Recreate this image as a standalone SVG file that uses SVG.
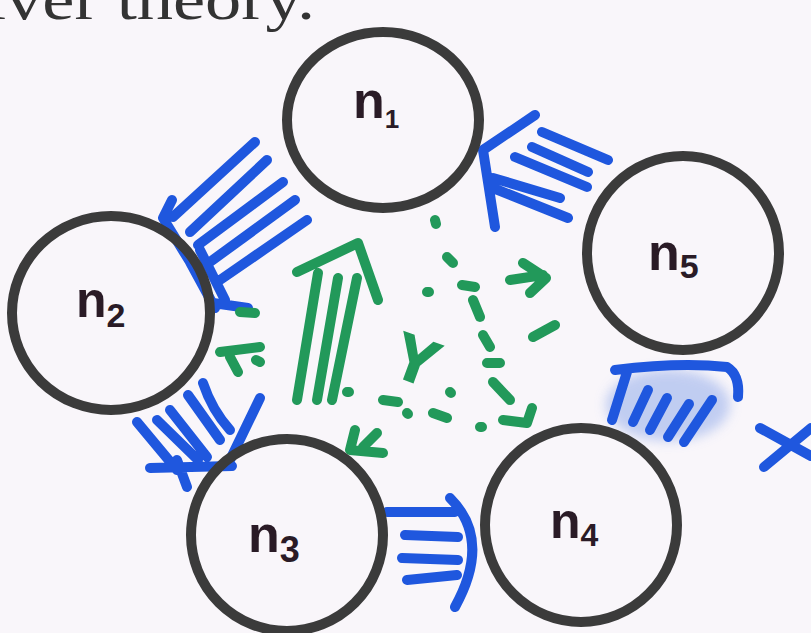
<svg xmlns="http://www.w3.org/2000/svg" width="811" height="633" viewBox="0 0 811 633">
<defs>
<style>
.bg{fill:#f9f6fa}
.node{fill:none;stroke:#3b3b3b;stroke-width:10}
.lab{font-family:"Liberation Sans",Arial,sans-serif;font-weight:bold;fill:#2a1b26}
.blue{fill:none;stroke:#1f57de;stroke-width:10;stroke-linecap:round;stroke-linejoin:round}
.green{fill:none;stroke:#22995a;stroke-width:10;stroke-linecap:round;stroke-linejoin:round}
.head{font-family:"Liberation Serif","Times New Roman",serif;fill:#333}
</style>
<filter id="blur" x="-30%" y="-30%" width="160%" height="160%"><feGaussianBlur stdDeviation="6"/></filter>
</defs>
<rect class="bg" x="0" y="0" width="811" height="633"/>
<text class="head" x="-14" y="19" font-size="60" textLength="329" lengthAdjust="spacingAndGlyphs">iver theory.</text>

<g id="connectors">
<g id="arrow-n1-n2">
<path class="blue" d="M255,142 L173,217 M267,160 L190,232 M283,182 L198,245 M295,200 L210,262 M307,220 L220,280 M172,200 L163,218 L190,262 L215,308 M200,250 L225,300 M213,303 L248,308"/>
</g>
<g id="arrow-n5-n1">
<path class="blue" d="M535,115 L483,150 L495,227 M542,132 L608,160 M532,147 L588,172 M515,157 L587,187 M493,178 L560,198 M493,188 L568,218"/>
</g>
<g id="arrow-n5-n4">
<ellipse cx="668" cy="405" rx="62" ry="36" fill="#b7c6f0" opacity="0.85" filter="url(#blur)"/>
<path class="blue" d="M615,370 Q680,362 727,367 Q740,375 738,397 M627,372 L612,420 M648,390 L633,422 M667,398 L650,430 M689,404 L668,437 M712,400 L684,442"/>
</g>
<g id="cross">
<path class="blue" d="M760,428 L811,456 M764,467 L811,428"/>
</g>
<g id="arrow-n2-n3">
<path class="blue" d="M137,422 L177,470 M157,420 L198,460 M170,410 L207,457 M188,395 L220,440 M203,383 Q212,410 230,430 M260,398 L230,460 M150,468 L232,466 M177,460 L187,487"/>
</g>
<g id="arrow-n3-n4">
<path class="blue" d="M387,512 L455,512" stroke-width="13"/>
<path class="blue" d="M405,535 L458,537 M402,558 L458,560 M407,580 L457,575 M450,498 Q492,540 455,607"/>
</g>
<g id="green-up-arrow">
<path class="green" d="M297,400 L318,273 M317,400 L338,278 M332,400 L357,278 M297,272 L358,243 L378,300"/>
</g>
<g id="green-dashed">
<path class="green" d="M435,220 L436,224 M447,257 L453,263 M462,285 L475,287 M473,300 L480,317 M483,335 L490,347 M487,363 L500,363 M493,382 L510,400 M503,420 L527,423 L532,408 M480,427 L482,427 M433,413 L447,418 M407,413 L408,414 M383,400 L398,402 M450,392 L451,393 M347,392 L349,392 M427,292 L429,292 M510,280 L543,275 M523,263 L546,278 L530,293 M533,337 L555,325"/>
</g>
<g id="green-marks">
<path class="green" d="M240,312 L255,313 M220,352 L260,347 M230,357 L238,372 M256,360 L260,362 M355,430 L350,450 L383,453 M377,433 L363,447"/>
</g>
</g>

<text x="417" y="382" font-size="64" transform="rotate(20 417 357)" class="lab" style="fill:#22995a;stroke:#22995a;stroke-width:2" text-anchor="middle">Y</text>

<g id="n1"><ellipse class="node" cx="383" cy="120" rx="96" ry="88"/><text class="lab" x="353" y="118" font-size="52">n<tspan font-size="26" dy="10">1</tspan></text></g>
<g id="n2"><ellipse class="node" cx="111" cy="313" rx="99" ry="97"/><text class="lab" x="76" y="317" font-size="50">n<tspan font-size="34" dy="10">2</tspan></text></g>
<g id="n3"><ellipse class="node" cx="287" cy="535" rx="96" ry="96"/><text class="lab" x="248" y="552" font-size="52">n<tspan font-size="36" dy="10">3</tspan></text></g>
<g id="n4"><ellipse class="node" cx="581" cy="525" rx="96" ry="97"/><text class="lab" x="550" y="538" font-size="50">n<tspan font-size="32" dy="8">4</tspan></text></g>
<g id="n5"><ellipse class="node" cx="683" cy="253" rx="96" ry="97"/><text class="lab" x="648" y="270" font-size="52">n<tspan font-size="34" dy="8">5</tspan></text></g>
</svg>
